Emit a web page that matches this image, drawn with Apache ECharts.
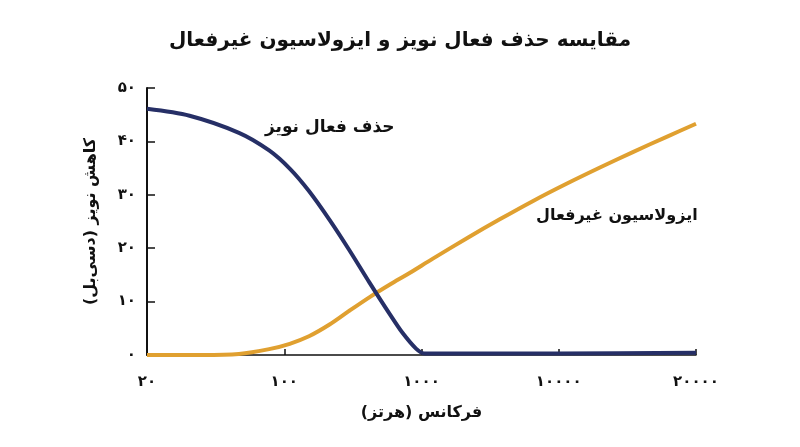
<!DOCTYPE html>
<html>
<head>
<meta charset="utf-8">
<script src="https://cdn.jsdelivr.net/npm/echarts@6/dist/echarts.min.js"></script>
<style>html,body{margin:0;padding:0;background:#fff}#c{width:800px;height:447px}</style>
</head>
<body>
<div id="c"></div>
<script>
var titleText = 'مقایسه حذف فعال نویز و ایزولاسیون غیرفعال';
var xTickLabels = ['۲۰', '۱۰۰', '۱۰۰۰', '۱۰۰۰۰', '۲۰۰۰۰'];
var yTickLabels = ['۰', '۱۰', '۲۰', '۳۰', '۴۰', '۵۰'];
var xAxisName = 'فرکانس (هرتز)';
var yAxisName = 'کاهش نویز (دسی‌بل)';
var ancName = 'حذف فعال نویز';
var passiveName = 'ایزولاسیون غیرفعال';
// x in tick-index units (0 = 20 Hz, 1 = 100, 2 = 1000, 3 = 10000, 4 = 20000)
var ancX = [0, 0.31, 0.67, 0.89, 1.04, 1.18, 1.33, 1.47, 1.62, 1.77, 1.86, 1.96, 2.02, 2.4, 3.0, 4.0];
var ancY = [46.1, 44.8, 41.6, 38.3, 34.9, 30.7, 25.3, 19.8, 13.6, 7.6, 4.2, 1.2, 0.3, 0.3, 0.3, 0.4];
var passiveX = [0, 0.4, 0.67, 0.89, 1.04, 1.18, 1.33, 1.47, 1.62, 1.77, 1.91, 2.08, 2.34, 2.57, 2.81, 3.06, 3.3, 3.54, 3.79, 4.0];
var passiveY = [0, 0, 0.2, 1.1, 2.1, 3.5, 5.7, 8.2, 10.8, 13.2, 15.3, 18.0, 22.0, 25.4, 28.8, 32.1, 35.1, 38.0, 40.9, 43.3];

function pairs(xs, ys) { return xs.map(function (x, i) { return [x, ys[i]]; }); }

var font = 'DejaVu Sans';
var chart = echarts.init(document.getElementById('c'));
chart.setOption({
  animation: false,
  textStyle: { fontFamily: font },
  title: {
    text: titleText, left: 'center', top: 26,
    textStyle: { fontFamily: font, fontSize: 20, fontWeight: 'bold', color: '#111' }
  },
  grid: { left: 147, right: 104, top: 88, bottom: 92 },
  xAxis: {
    type: 'value', min: 0, max: 4, interval: 1,
    name: xAxisName, nameLocation: 'middle', nameGap: 50,
    nameTextStyle: { fontFamily: font, fontSize: 16, fontWeight: 'bold', color: '#111' },
    axisLine: { lineStyle: { color: '#111', width: 1.5 } },
    axisTick: { inside: true, length: 6, lineStyle: { color: '#111', width: 1.5 } },
    splitLine: { show: false },
    axisLabel: {
      margin: 20, fontFamily: font, fontSize: 15, fontWeight: 'bold', color: '#111',
      formatter: function (v) { return xTickLabels[Math.round(v)]; }
    }
  },
  yAxis: {
    type: 'value', min: 0, max: 50, interval: 10,
    name: yAxisName, nameLocation: 'middle', nameGap: 48, nameRotate: 90,
    nameTextStyle: { fontFamily: font, fontSize: 16, fontWeight: 'bold', color: '#111' },
    axisLine: { show: true, lineStyle: { color: '#111', width: 2 } },
    axisTick: { show: true, inside: true, length: 8, lineStyle: { color: '#111', width: 1.5 } },
    splitLine: { show: false },
    axisLabel: {
      margin: 11, fontFamily: font, fontSize: 15, fontWeight: 'bold', color: '#111',
      formatter: function (v) { return yTickLabels[Math.round(v / 10)]; }
    }
  },
  series: [
    {
      name: passiveName, type: 'line', data: pairs(passiveX, passiveY),
      smooth: 0.3, showSymbol: false, symbol: 'none',
      lineStyle: { color: '#e0a030', width: 4 }, z: 3
    },
    {
      name: ancName, type: 'line', data: pairs(ancX, ancY),
      smooth: 0.3, showSymbol: false, symbol: 'none',
      lineStyle: { color: '#262f66', width: 4 }, z: 4
    }
  ],
  graphic: [
    { type: 'text', left: 265, top: 119,
      style: { text: ancName, font: 'bold 17px "DejaVu Sans"', fill: '#111' } },
    { type: 'text', left: 536, top: 208,
      style: { text: passiveName, font: 'bold 16px "DejaVu Sans"', fill: '#111' } }
  ]
});
</script>
</body>
</html>
